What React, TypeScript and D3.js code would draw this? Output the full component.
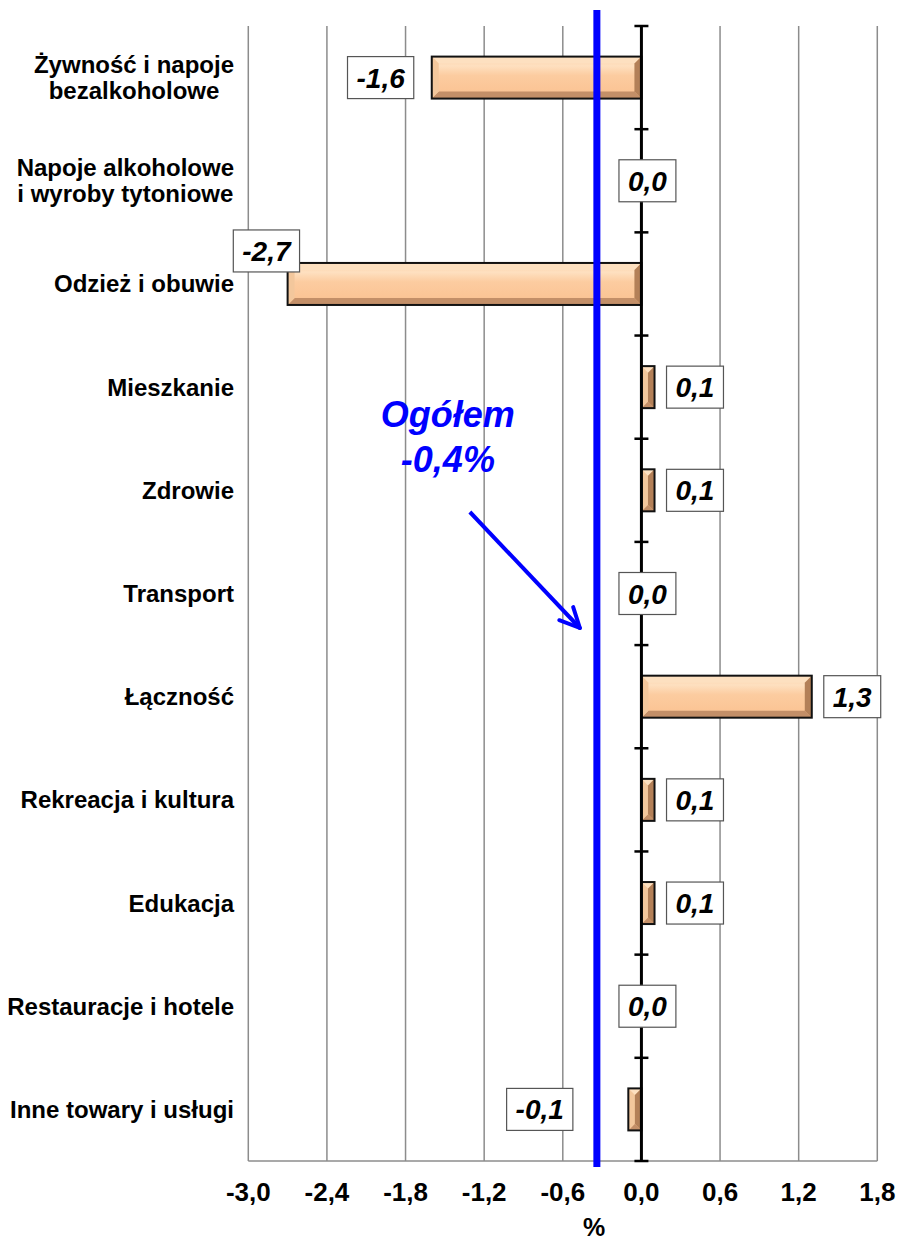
import React, { useEffect, useRef } from 'react';
import * as d3 from 'd3';

// categories of consumer goods (line breaks as in the original)
const categories = [
  'Żywność i napoje\nbezalkoholowe',
  'Napoje alkoholowe\ni wyroby tytoniowe',
  'Odzież i obuwie',
  'Mieszkanie',
  'Zdrowie',
  'Transport',
  'Łączność',
  'Rekreacja i kultura',
  'Edukacja',
  'Restauracje i hotele',
  'Inne towary i usługi',
];
const values = [-1.6, 0.0, -2.7, 0.1, 0.1, 0.0, 1.3, 0.1, 0.1, 0.0, -0.1];
const xTicks = [-3.0, -2.4, -1.8, -1.2, -0.6, 0.0, 0.6, 1.2, 1.8];
const totalValue = -0.34; // where the blue "overall" line sits
const totalLabel = ['Ogółem', '-0,4%'];
const axisTitle = '%';

const W = 901;
const H = 1242;
const FONT = '"Liberation Sans", Arial, Helvetica, sans-serif';

const plLocale = d3.formatLocale({
  decimal: ',',
  thousands: ' ',
  grouping: [3],
  currency: ['', ''],
  minus: '-',
});
const fmt = plLocale.format('.1f');

export default function App() {
  const svgRef = useRef<SVGSVGElement>(null);

  useEffect(() => {
    const svg = d3.select(svgRef.current);
    svg.selectAll('*').remove();

    const x = d3.scaleLinear().domain([-3.0, 1.8]).range([248.3, 877.3]);
    const y = d3.scaleBand<string>().domain(categories).range([26, 1161]).padding(0);
    const top = 26, bottom = 1161;
    const barH = 42;

    // gradient for the bevelled bars
    const defs = svg.append('defs');
    const grad = defs.append('linearGradient')
      .attr('id', 'barFill').attr('x1', 0).attr('y1', 0).attr('x2', 0).attr('y2', 1);
    [[0, '#fbcda3'], [0.22, '#fee0c0'], [0.45, '#fccca0'], [0.8, '#fbc596'], [1, '#f3ba8a']]
      .forEach(([o, c]) => grad.append('stop').attr('offset', o as number).attr('stop-color', c as string));

    // vertical grid
    svg.append('g').selectAll('line')
      .data(xTicks.filter(t => t !== 0))
      .enter().append('line')
      .attr('x1', d => x(d)).attr('x2', d => x(d))
      .attr('y1', top).attr('y2', bottom)
      .attr('stroke', '#8c8c8c').attr('stroke-width', 1.5);

    svg.append('line')  // bottom border of the plot
      .attr('x1', x(-3.0)).attr('x2', x(1.8))
      .attr('y1', bottom).attr('y2', bottom)
      .attr('stroke', '#8c8c8c').attr('stroke-width', 1.5);

    // bars
    const bars = svg.append('g');
    values.forEach((v, i) => {
      if (v === 0) return;
      const cy = (y(categories[i]) as number) + y.bandwidth() / 2;
      const x0 = Math.min(x(0), x(v));
      const x1 = Math.max(x(0), x(v));
      const y0 = cy - barH / 2;
      const y1 = cy + barH / 2;
      const w = x1 - x0;
      const b = Math.min(7, w / 2);
      const g = bars.append('g');
      g.append('rect').attr('x', x0).attr('y', y0).attr('width', w).attr('height', barH)
        .attr('fill', 'url(#barFill)');
      // bevels: top light, bottom dark, left light, right dark
      const poly = (pts: number[][], fill: string) =>
        g.append('polygon').attr('points', pts.map(p => p.join(',')).join(' ')).attr('fill', fill);
      poly([[x0, y0], [x1, y0], [x1 - b, y0 + b], [x0 + b, y0 + b]], '#fde0c0');
      poly([[x0, y1], [x1, y1], [x1 - b, y1 - b], [x0 + b, y1 - b]], '#c38f68');
      poly([[x0, y0], [x0 + b, y0 + b], [x0 + b, y1 - b], [x0, y1]], '#f3c79c');
      poly([[x1, y0], [x1 - b, y0 + b], [x1 - b, y1 - b], [x1, y1]], '#b38058');
      g.append('rect').attr('x', x0).attr('y', y0).attr('width', w).attr('height', barH)
        .attr('fill', 'none').attr('stroke', '#111').attr('stroke-width', 2);
    });

    // zero axis with ticks at band edges
    svg.append('line')
      .attr('x1', x(0)).attr('x2', x(0)).attr('y1', top).attr('y2', bottom)
      .attr('stroke', '#000').attr('stroke-width', 3);
    const edges = categories.map(c => y(c) as number).concat([bottom]);
    svg.append('g').selectAll('line')
      .data(edges).enter().append('line')
      .attr('x1', x(0) - 7).attr('x2', x(0) + 7)
      .attr('y1', d => d).attr('y2', d => d)
      .attr('stroke', '#000').attr('stroke-width', 2.5);

    // overall line
    const xt = x(totalValue);
    svg.append('line')
      .attr('x1', xt).attr('x2', xt).attr('y1', 10).attr('y2', 1167)
      .attr('stroke', '#0000ff').attr('stroke-width', 7);

    // data labels
    const lab = svg.append('g');
    values.forEach((v, i) => {
      const cy = (y(categories[i]) as number) + y.bandwidth() / 2;
      const txt = fmt(v);
      const t = lab.append('text')
        .attr('font-family', FONT).attr('font-size', 28)
        .attr('font-weight', 'bold').attr('font-style', 'italic')
        .attr('text-anchor', 'middle').attr('fill', '#000')
        .text(txt);
      const tw = (t.node() as SVGTextElement).getComputedTextLength();
      const bw = tw + 18;
      let left: number;
      let boxCy = cy;
      if (v > 0) left = x(v) + 12;
      else if (v < 0) {
        const right = Math.min(x(v) - 18, xt - 24);
        left = right - bw;
        if (left < x(-3.0) - 16) { // no room: lift above the bar
          left = x(-3.0) - 15;
          boxCy = cy - 33;
        }
      } else left = x(0) + 6 - bw / 2;
      lab.insert('rect', () => t.node())
        .attr('x', left).attr('y', boxCy - 21).attr('width', bw).attr('height', 42)
        .attr('fill', '#fff').attr('stroke', '#555').attr('stroke-width', 1.2);
      t.attr('x', left + bw / 2).attr('y', boxCy + 10);
    });

    // category labels, multi-line ones centred on their widest line
    categories.forEach(c => {
      const lines = c.split('\n');
      const cy = (y(c) as number) + y.bandwidth() / 2;
      const g = svg.append('g');
      const texts = lines.map((ln, j) => g.append('text')
        .attr('font-family', FONT).attr('font-size', 24).attr('font-weight', 'bold')
        .attr('text-anchor', 'middle').attr('fill', '#000')
        .attr('y', cy + 8.5 + (j - (lines.length - 1) / 2) * 26)
        .text(ln));
      const maxW = d3.max(texts, t => (t.node() as SVGTextElement).getComputedTextLength()) as number;
      texts.forEach(t => t.attr('x', 234 - maxW / 2));
    });

    // x tick labels
    svg.append('g').selectAll('text')
      .data(xTicks).enter().append('text')
      .attr('x', d => x(d)).attr('y', 1201)
      .attr('font-family', FONT).attr('font-size', 26).attr('font-weight', 'bold')
      .attr('text-anchor', 'middle').attr('fill', '#000')
      .text(d => fmt(d));

    svg.append('text')
      .attr('x', 594).attr('y', 1236)
      .attr('font-family', FONT).attr('font-size', 25).attr('font-weight', 'bold')
      .attr('text-anchor', 'middle').attr('fill', '#000')
      .text(axisTitle);

    // "Ogółem" annotation + arrow
    totalLabel.forEach((s, j) => {
      svg.append('text')
        .attr('x', xt - 149).attr('y', 427 + j * 45)
        .attr('font-family', FONT).attr('font-size', 36)
        .attr('font-weight', 'bold').attr('font-style', 'italic')
        .attr('text-anchor', 'middle').attr('fill', '#0000ff')
        .text(s);
    });
    const tip: [number, number] = [xt - 17, 628];
    const start: [number, number] = [xt - 127, 512];
    svg.append('line')
      .attr('x1', start[0]).attr('y1', start[1]).attr('x2', tip[0]).attr('y2', tip[1])
      .attr('stroke', '#0000ff').attr('stroke-width', 4);
    const ang = Math.atan2(tip[1] - start[1], tip[0] - start[0]);
    [0.45, -0.45].forEach(a => {
      svg.append('line')
        .attr('x1', tip[0]).attr('y1', tip[1])
        .attr('x2', tip[0] - 22 * Math.cos(ang + a)).attr('y2', tip[1] - 22 * Math.sin(ang + a))
        .attr('stroke', '#0000ff').attr('stroke-width', 4).attr('stroke-linecap', 'round');
    });
  }, []);

  return (
    <svg ref={svgRef} width={W} height={H}
      style={{ position: 'absolute', left: 0, top: 0, background: '#fff' }} />
  );
}
